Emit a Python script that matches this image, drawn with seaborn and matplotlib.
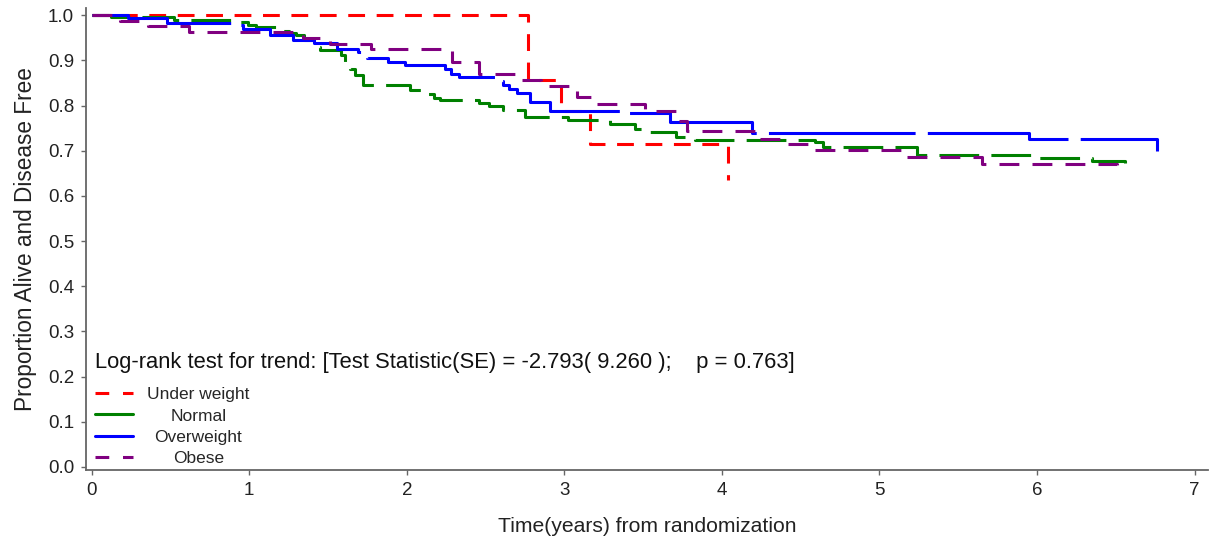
import matplotlib
matplotlib.use("Agg")

import pandas as pd
import matplotlib.pyplot as plt
import seaborn as sns
from matplotlib.lines import Line2D

# Kaplan-Meier step points (time in years, proportion)
under_t = [0, 2.77, 2.98, 3.16, 4.04]
under_s = [1.0, 0.857, 0.787, 0.714, 0.635]

normal_t = [0, 0.12, 0.52, 0.93, 0.99, 1.04, 1.20, 1.25, 1.30, 1.35, 1.41, 1.45,
            1.58, 1.61, 1.64, 1.67, 1.72, 2.02, 2.12, 2.17, 2.21, 2.46, 2.52, 2.61,
            2.75, 3.02, 3.29, 3.45, 3.54, 3.71, 3.83, 4.59, 4.64, 5.24, 5.97, 6.35, 6.56]
normal_s = [1.0, 0.996, 0.99, 0.986, 0.978, 0.973, 0.965, 0.96, 0.956, 0.945, 0.929, 0.922,
            0.911, 0.895, 0.88, 0.867, 0.845, 0.834, 0.825, 0.816, 0.812, 0.805, 0.799, 0.79,
            0.774, 0.768, 0.759, 0.748, 0.741, 0.730, 0.724, 0.72, 0.708, 0.69, 0.683, 0.677, 0.672]

over_t = [0, 0.23, 0.48, 0.93, 0.96, 1.13, 1.28, 1.41, 1.56, 1.69, 1.75, 1.88, 1.99,
          2.24, 2.28, 2.33, 2.58, 2.61, 2.65, 2.70, 2.78, 2.91, 3.35, 3.67, 4.19, 5.95, 6.76]
over_s = [1.0, 0.995, 0.983, 0.978, 0.969, 0.956, 0.945, 0.938, 0.925, 0.918, 0.905, 0.896, 0.889,
          0.88, 0.87, 0.863, 0.855, 0.845, 0.836, 0.827, 0.808, 0.788, 0.783, 0.763, 0.739, 0.726, 0.70]

obese_t = [0, 0.18, 0.36, 0.62, 1.34, 1.51, 1.77, 2.29, 2.46, 2.70, 2.85, 3.08, 3.18,
           3.51, 3.72, 3.78, 4.21, 4.42, 4.59, 5.17, 5.65, 6.51]
obese_s = [1.0, 0.987, 0.976, 0.962, 0.949, 0.936, 0.925, 0.896, 0.871, 0.856, 0.843, 0.819, 0.803,
           0.788, 0.765, 0.743, 0.727, 0.714, 0.701, 0.686, 0.670, 0.650]

groups = ["Under weight", "Normal", "Overweight", "Obese"]
colors = ["red", "green", "blue", "purple"]
styles = [(0, (5.5, 3.8)), (0, (13, 4)), (0, (48, 4)), (0, (6.5, 4.3))]
legend_styles = [(0, (4.5, 4.5)), "-", "-", (0, (4.5, 4.5))]

sns.set_theme(style="ticks")
plt.rcParams["font.family"] = ["Liberation Sans", "DejaVu Sans"]

fig = plt.figure(figsize=(12.18, 5.42), dpi=100)
ax = fig.add_axes([0.0706, 0.1328, 0.9212, 0.8524])

series = [(under_t, under_s), (normal_t, normal_s), (over_t, over_s), (obese_t, obese_s)]
for (t, s), name, c, ls in zip(series, groups, colors, styles):
    df = pd.DataFrame({"time": t, "surv": s})
    sns.lineplot(data=df, x="time", y="surv", ax=ax, color=c, linestyle=ls,
                 linewidth=2.2, drawstyle="steps-post", estimator=None, sort=False)

ax.set_xlim(-0.036, 7.085)
ax.set_ylim(-0.007, 1.016)
ax.set_xticks(range(0, 8))
ax.set_yticks([i / 10 for i in range(11)])
ax.set_yticklabels([f"{i / 10:.1f}" for i in range(11)])
ax.set_xlabel("Time(years) from randomization", fontsize=15.2, color="#222222", labelpad=13)
ax.set_ylabel("Proportion Alive and Disease Free", fontsize=16.3, color="#222222", labelpad=8)
ax.tick_params(axis="both", labelsize=13.5, length=3.5, width=1, color="#666666",
               labelcolor="#222222", pad=5)
for side in ["left", "bottom"]:
    ax.spines[side].set_color("#666666")
    ax.spines[side].set_linewidth(1.3)
sns.despine(ax=ax)

ax.text(0.008, 0.233,
        "Log-rank test for trend: [Test Statistic(SE) = -2.793( 9.260 );    p = 0.763]",
        transform=ax.transAxes, fontsize=15.8, va="center", ha="left", color="#111111")

handles = [Line2D([], [], color=c, linestyle=ls, linewidth=2.2)
           for c, ls in zip(colors, legend_styles)]
leg = ax.legend(handles, groups, loc="lower left", bbox_to_anchor=(0.008, 0.008),
                frameon=False, fontsize=12.5, handlelength=2.2, handletextpad=0.8,
                labelspacing=0.36, borderpad=0, borderaxespad=0)

# centre the legend labels like the original
fig.canvas.draw()
renderer = fig.canvas.get_renderer()
widths = [t.get_window_extent(renderer).width for t in leg.get_texts()]
wmax = max(widths)
for t, w in zip(leg.get_texts(), widths):
    t.set_position(((wmax - w) / 2, 0))

fig.savefig("out.png", dpi=100)
plt.close(fig)
